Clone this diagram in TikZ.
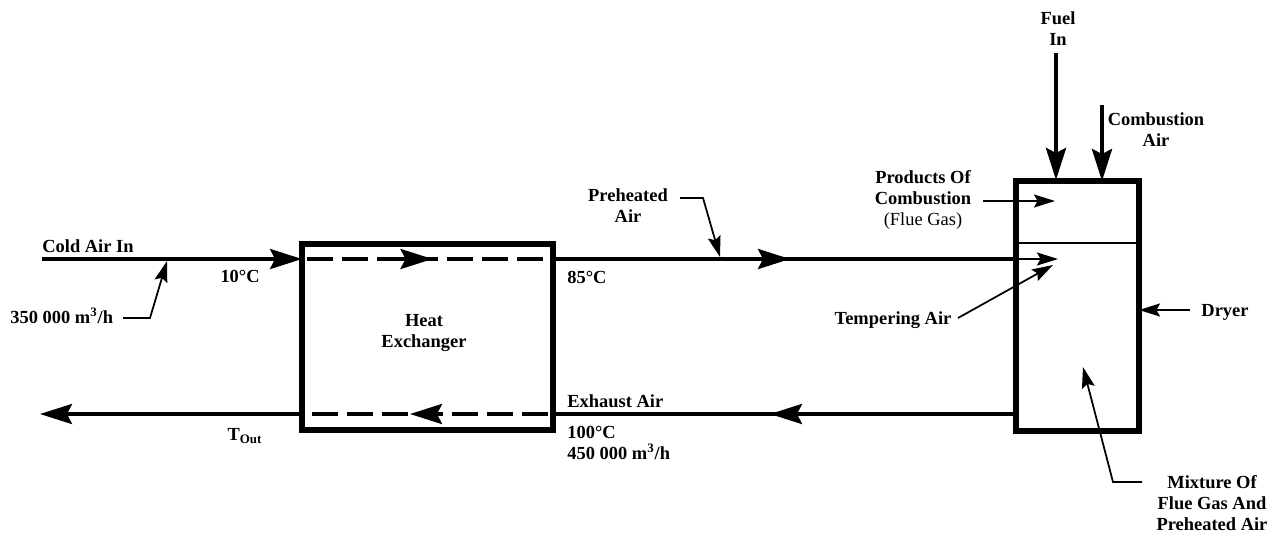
\documentclass[tikz,border=0pt]{standalone}
\usepackage{fontspec}
\setmainfont{Liberation Serif}
\usetikzlibrary{arrows.meta,calc}
\tikzstyle{centered} = [align=center, text centered, inner sep=0pt]
\tikzstyle{lbl} = [centered]
\tikzset{
  % line styles
  flow/.style={line width=2pt},
  inner flow/.style={line width=2.2pt, dash pattern=on 0.52cm off 0.18cm},
  thin flow/.style={line width=1.1pt},
  lead/.style={line width=1pt},
  big tip/.style={-{Stealth[length=0.64cm,width=0.4cm,inset=0.1cm]}},
  small tip/.style={-{Stealth[length=0.42cm,width=0.26cm,inset=0.07cm]}},
  % node styles
  unit/.style={draw, line width=3.2pt, inner sep=0pt, outer sep=0pt},
}

\begin{document}
\begin{tikzpicture}[x=0.02cm, y=-0.02cm, font=\fontsize{10.5pt}{12pt}\selectfont\bfseries]
        \useasboundingbox (0,0) rectangle (1278,535);
        % units
        \node (hx)[unit, minimum width=5.02cm, minimum height=3.72cm] at (427.5,337) {};
        \node (dryer)[unit, minimum width=2.46cm, minimum height=5cm] at (1077.5,306) {};
        \draw[thin flow] ($(dryer.north west)!0.248!(dryer.south west)$) -- ($(dryer.north east)!0.248!(dryer.south east)$);
        \node (hxlbl)[lbl] at (424,333) {Heat\\Exchanger};
        % cold air side
        \coordinate (cold) at (42,259);
        \draw[flow, big tip] (cold) -- (cold -| hx.west);
        \draw[inner flow] ([xshift=3pt]cold -| hx.west) -- ([xshift=-3pt]cold -| hx.east);
        \draw[flow, big tip] ($(cold -| hx.west)!0.40!(cold -| hx.east)$) -- ($(cold -| hx.west)!0.52!(cold -| hx.east)$);
        \draw[flow] (cold -| hx.east) -- (cold -| dryer.west);
        \draw[flow, big tip] (758,259) -- (790,259);
        \draw[thin flow, small tip] (cold -| dryer.west) -- (1058,259);
        \node (coldlbl)[lbl, anchor=base west] at (42,252) {Cold Air In};
        \node (tin)[lbl, anchor=base east] at (260,282) {10°C};
        \node (qin)[lbl, anchor=base west] at (10,323) {350 000 m\textsuperscript{3}/h};
        \draw[lead, small tip] (123,318) -- (150,318) -- (167,261);
        \node (tpre)[lbl, anchor=base west] at (567,283) {85°C};
        \node (pre)[lbl] at (628,206) {Preheated\\Air};
        \draw[lead, small tip] (680,198) -- (703,198) -- (720,257);
        % exhaust side
        \coordinate (exh) at (0,414);
        \coordinate (out) at (40,414);
        \draw[flow] (exh -| dryer.west) -- (exh -| hx.east);
        \draw[flow, big tip] (802,414) -- (770,414);
        \draw[inner flow] ([xshift=-3pt]exh -| hx.east) -- ([xshift=3pt]exh -| hx.west);
        \draw[flow, big tip] (442,414) -- (410,414);
        \draw[flow, big tip] (exh -| hx.west) -- (out);
        \node (exhlbl)[lbl, anchor=base west] at (567,407) {Exhaust Air};
        \node (texh)[lbl, anchor=base west] at (567,438) {100°C};
        \node (qexh)[lbl, anchor=base west] at (567,459) {450 000 m\textsuperscript{3}/h};
        \node (tout)[lbl] at (245,436) {T\textsubscript{Out}};
        % dryer inputs
        \node (fuel)[lbl] at (1058,29) {Fuel\\In};
        \draw[line width=2.4pt, big tip] (1056,53) -- (1056,180);
        \coordinate (cair) at (1102,105);
        \draw[line width=2.4pt, big tip] (cair) -- (cair |- dryer.north);
        \node (cairlbl)[lbl] at (1156,130) {Combustion\\Air};
        \node (poc)[lbl] at (923,200) {Products Of\\Combustion\\{\mdseries (Flue Gas)}};
        \draw[thin flow, small tip] (983,201) -- (1055,201);
        \node (temp)[lbl] at (893,320) {Tempering Air};
        \draw[lead, small tip] (958,318) -- (1053,265);
        \node (dlbl)[lbl] at (1225,312) {Dryer};
        \coordinate (dl) at (1190,310);
        \draw[lead, small tip] (dl) -- (dl -| dryer.east);
        \node (mix)[lbl] at (1212,503) {Mixture Of\\Flue Gas And\\Preheated Air};
        \draw[lead, small tip] (1142,482) -- (1113,482) -- (1083,367);
\end{tikzpicture}
\end{document}
